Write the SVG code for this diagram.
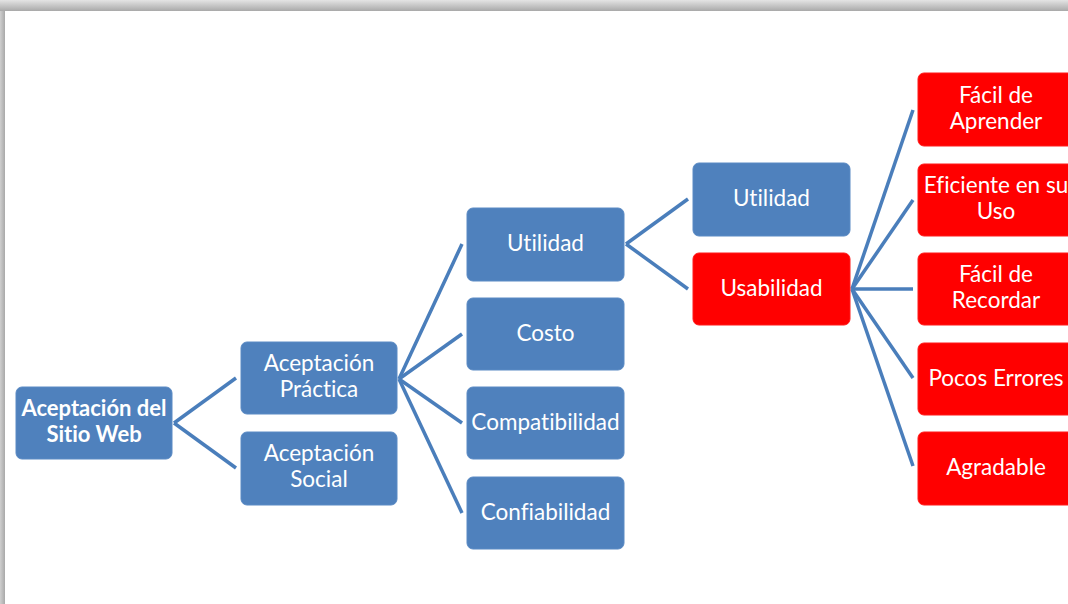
<svg xmlns="http://www.w3.org/2000/svg" width="1068" height="604" viewBox="0 0 1068 604">
<defs>
<linearGradient id="gTop" x1="0" y1="0" x2="0" y2="1">
<stop offset="0" stop-color="#e4e4e4"/><stop offset="1" stop-color="#a9a9a9"/>
</linearGradient>
<linearGradient id="gLeft" x1="0" y1="0" x2="1" y2="0">
<stop offset="0" stop-color="#cfcfcf"/><stop offset="1" stop-color="#a9a9a9"/>
</linearGradient>
<style>
.b{fill:#4f81bd;stroke:#5a8ac4;stroke-width:1}
.r{fill:#ff0000;stroke:#ff1a1a;stroke-width:1}
.t{font-family:Lato,"Liberation Sans",sans-serif;font-size:22.5px;fill:#ffffff;text-anchor:middle;font-variant-ligatures:none}
.tb{font-weight:bold;font-size:22px}
.c line{stroke:#4a7ebb;stroke-width:3.5;stroke-linecap:butt}
</style>
</defs>
<rect x="0" y="0" width="1068" height="604" fill="#ffffff"/>
<rect x="0" y="0" width="1068" height="11" fill="url(#gTop)"/>
<rect x="0" y="11" width="5" height="593" fill="url(#gLeft)"/>

<g id="connectors" class="c">
<line x1="174" y1="423" x2="236" y2="378"/>
<line x1="174" y1="423" x2="236" y2="468"/>
<line x1="399" y1="379" x2="462" y2="244"/>
<line x1="399" y1="379" x2="462" y2="334"/>
<line x1="399" y1="379" x2="462" y2="423"/>
<line x1="399" y1="379" x2="462" y2="513"/>
<line x1="626" y1="244" x2="688" y2="199"/>
<line x1="626" y1="244" x2="688" y2="289"/>
<line x1="852" y1="289" x2="913" y2="110"/>
<line x1="852" y1="289" x2="913" y2="200"/>
<line x1="852" y1="289" x2="913" y2="289"/>
<line x1="852" y1="289" x2="913" y2="378"/>
<line x1="852" y1="289" x2="913" y2="466"/>
</g>

<g id="n-sitio-web"><rect class="b" x="16" y="387" width="156" height="72" rx="6"/>
<text class="t tb" x="94" y="416">Aceptación del</text><text class="t tb" x="94" y="442">Sitio Web</text></g>

<g id="n-practica"><rect class="b" x="241" y="342" width="156" height="72" rx="6"/>
<text class="t" x="319" y="371">Aceptación</text><text class="t" x="319" y="397">Práctica</text></g>
<g id="n-social"><rect class="b" x="241" y="432" width="156" height="73" rx="6"/>
<text class="t" x="319" y="461">Aceptación</text><text class="t" x="319" y="487">Social</text></g>

<g id="n-utilidad1"><rect class="b" x="467" y="208" width="157" height="73" rx="6"/>
<text class="t" x="545.5" y="251">Utilidad</text></g>
<g id="n-costo"><rect class="b" x="467" y="298" width="157" height="72" rx="6"/>
<text class="t" x="545.5" y="341">Costo</text></g>
<g id="n-compat"><rect class="b" x="467" y="387" width="157" height="72" rx="6"/>
<text class="t" x="545.5" y="430">Compatibilidad</text></g>
<g id="n-confiab"><rect class="b" x="467" y="477" width="157" height="72" rx="6"/>
<text class="t" x="545.5" y="520">Confiabilidad</text></g>

<g id="n-utilidad2"><rect class="b" x="693" y="163" width="157" height="73" rx="6"/>
<text class="t" x="771.5" y="206">Utilidad</text></g>
<g id="n-usabilidad"><rect class="r" x="693" y="253" width="157" height="72" rx="6"/>
<text class="t" x="771.5" y="296">Usabilidad</text></g>

<g id="n-aprender"><rect class="r" x="918" y="73" width="160" height="73" rx="6"/>
<text class="t" x="996" y="103">Fácil de</text><text class="t" x="996" y="129">Aprender</text></g>
<g id="n-eficiente"><rect class="r" x="918" y="164" width="160" height="72" rx="6"/>
<text class="t" x="996" y="193">Eficiente en su</text><text class="t" x="996" y="219">Uso</text></g>
<g id="n-recordar"><rect class="r" x="918" y="253" width="160" height="72" rx="6"/>
<text class="t" x="996" y="282">Fácil de</text><text class="t" x="996" y="308">Recordar</text></g>
<g id="n-errores"><rect class="r" x="918" y="343" width="160" height="72" rx="6"/>
<text class="t" x="996" y="386">Pocos Errores</text></g>
<g id="n-agradable"><rect class="r" x="918" y="432" width="160" height="73" rx="6"/>
<text class="t" x="996" y="475">Agradable</text></g>
</svg>
